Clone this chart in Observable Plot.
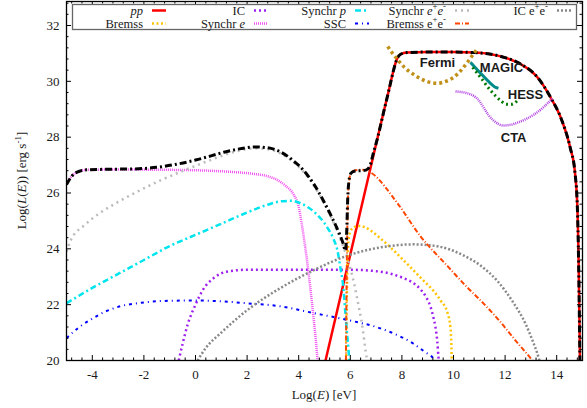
<!DOCTYPE html>
<html><head><meta charset="utf-8">
<script src="https://cdn.jsdelivr.net/npm/d3@7"></script>
<script src="https://cdn.jsdelivr.net/npm/@observablehq/plot@0.6"></script>
<style>body{margin:0;background:#fff} svg{display:block}</style>
</head><body><div id="chart"></div>
<script>
// ---------- data (log E [eV], log L [erg/s]) ----------
const totalX = [-5,-4.8,-4.5,-4.2,-3.5,-2.5,-1.5,-0.8,0,0.6,1.1,1.7,2.3,2.8,3.3,3.8,4.2,4.6,5.0,5.3,5.55,5.72,5.81,5.86,5.9,5.95,6.02,6.15,6.4,6.6,6.75,6.9,7.05,7.3,7.5,7.65,7.8,7.95,8.2,9,10,10.8,11.4,12,12.6,13.26,13.76,14.2,14.53,14.7,14.8,14.85,14.88,14.9];
const totalY = [26.3,26.6,26.78,26.83,26.85,26.86,26.92,27.02,27.18,27.33,27.46,27.58,27.65,27.62,27.47,27.15,26.8,26.3,25.65,25.1,24.6,24.2,23.94,24.6,25.8,26.45,26.7,26.78,26.8,26.82,26.95,27.45,27.95,28.93,29.7,30.3,30.78,30.97,31.03,31.05,31.05,31.03,30.98,30.85,30.62,30.14,29.43,28.6,27.6,26.8,25.5,23.5,21.5,20];
const ppX = [5.04,7.05,7.3,7.5,7.65,7.8,7.95,8.2,9,10,10.8,11.4,12,12.6,13.26,13.76,14.2,14.53,14.7,14.8,14.85,14.88,14.9];
const ppY = [20,27.95,28.93,29.7,30.3,30.78,30.97,31.03,31.05,31.05,31.03,30.98,30.85,30.62,30.14,29.43,28.6,27.6,26.8,25.5,23.5,21.5,20];
const bremX = [5.84,5.87,5.9,5.95,6.05,6.3,6.55,6.78,7.2,7.56,8.0,8.45,8.85,9.22,9.5,9.77,9.88,9.92,9.93];
const bremY = [20,22.5,23.8,24.45,24.7,24.82,24.78,24.66,24.35,24.05,23.65,23.23,22.85,22.5,22.15,21.7,21.2,20.5,20];
const icX = [-0.65,-0.5,-0.3,0,0.3,0.7,1.2,2,4,6,7,7.6,8.06,8.4,8.72,8.95,9.1,9.22,9.3,9.37,9.42,9.43];
const icY = [20,20.6,21.3,22.0,22.55,22.95,23.18,23.25,23.25,23.25,23.2,23.1,22.95,22.8,22.55,22.25,21.95,21.55,21.2,20.7,20.1,20];
const synEX = [-5,-4.8,-4.5,-4.2,-3,-1,0.5,1.5,2.3,2.8,3.2,3.5,3.8,4.0,4.1,4.2,4.32,4.45,4.58,4.7,4.73];
const synEY = [26.3,26.6,26.78,26.83,26.84,26.83,26.8,26.75,26.68,26.6,26.45,26.25,25.95,25.5,25.0,24.4,23.6,22.6,21.5,20.35,20];
const synPX = [-5,-4,-3,-2,-1,0,1,2,2.7,3.3,3.7,4.1,4.6,5.1,5.35,5.5,5.62,5.72,5.81,5.88,5.93,5.96];
const synPY = [22.05,22.6,23.1,23.6,24.1,24.5,24.9,25.3,25.55,25.7,25.72,25.62,25.32,24.78,24.35,23.95,23.3,22.7,21.7,20.9,20.4,20];
const sscX = [-5,-4.5,-4,-3.5,-3,-2,-1,0,1,2,3.3,4.57,5.9,7.17,7.67,8.45,8.9,9.22,9.25];
const sscY = [20.8,21.2,21.5,21.75,21.92,22.08,22.14,22.15,22.12,22.05,21.94,21.7,21.45,21.15,20.97,20.6,20.3,20.07,20];
const synPairX = [-5,-4.84,-4.3,-3.68,-3,-2.4,-1.36,-0.2,0.5,1.08,1.7,2.3,2.8,3.3,3.8,4.2,4.6,5.0,5.3,5.55,5.8,6.0,6.15,6.28,6.47,6.6,6.65];
const synPairY = [23.9,24.3,24.85,25.3,25.68,25.98,26.45,26.9,27.15,27.35,27.52,27.6,27.57,27.42,27.1,26.75,26.25,25.6,25.05,24.5,23.9,23.3,22.75,22.15,21.2,20.3,20];
const bremPairX = [5.83,5.86,5.9,5.95,6.02,6.15,6.4,6.6,6.78,7.83,8.72,9.77,10.5,11.05,11.8,12.4,13.0,13.06];
const bremPairY = [20,23,25.5,26.4,26.7,26.8,26.83,26.82,26.74,25.63,24.45,23.38,22.65,22.15,21.4,20.72,20.07,20];
const icPairX = [0.08,0.4,1,2,3.3,4.57,5.9,7.44,8.45,9.38,10.4,11.05,11.7,12.3,12.8,13.06,13.3,13.33];
const icPairY = [20,20.45,21.0,21.8,22.6,23.23,23.76,24.09,24.16,24.09,23.76,23.4,22.85,22.1,21.3,20.72,20.1,20];
const fermiX = [7.45,7.6,7.83,8.1,8.45,8.9,9.38,9.7,10.0,10.3,10.54,10.75,10.95];
const fermiY = [31.25,31.05,30.78,30.5,30.25,30.02,29.93,30.0,30.14,30.4,30.68,30.95,31.2];
const magicX = [10.66,11.05,11.43,11.6,11.74];
const magicY = [30.68,30.29,29.93,29.8,29.75];
const hessX = [10.74,11.05,11.43,11.82,12.05,12.25,12.52];
const hessY = [30.5,30.14,29.68,29.32,29.18,29.18,29.35];
const ctaX = [10.08,10.5,10.78,11.0,11.16,11.35,11.55,11.94,12.2,12.48,13.1,13.5,13.84];
const ctaY = [29.64,29.58,29.48,29.3,29.07,28.8,28.6,28.42,28.44,28.52,28.8,29.08,29.4];

const instNames = ["Fermi","MAGIC","HESS","CTA"];
const instLabelX = [9.38,11.86,12.79,12.33];
const instLabelY = [30.65,30.5,29.5,27.96];

const xTicks = [-4,-2,0,2,4,6,8,10,12,14];
const yTicks = [20,22,24,26,28,30,32];

// ---------- styles ----------
const series = [
  {key:"pp",   x:ppX, y:ppY, stroke:"#ff0000", w:2.5, dash:null},
  {key:"brem", x:bremX, y:bremY, stroke:"#ffc400", w:2.5, dash:"2,2.5"},
  {key:"ic",   x:icX, y:icY, stroke:"#a020f0", w:2.5, dash:"2,3"},
  {key:"synE", x:synEX, y:synEY, stroke:"#f050f0", w:2.5, dash:"1,1"},
  {key:"synP", x:synPX, y:synPY, stroke:"#00e5ee", w:2.5, dash:"6,3,2,3"},
  {key:"ssc",  x:sscX, y:sscY, stroke:"#0000ff", w:2, dash:"3,4,1,4"},
  {key:"synPair", x:synPairX, y:synPairY, stroke:"#bbbbbb", w:2.5, dash:"2,4"},
  {key:"icPair",  x:icPairX, y:icPairY, stroke:"#888888", w:2.5, dash:"2,2"},
  {key:"bremPair",x:bremPairX, y:bremPairY, stroke:"#ff4500", w:2, dash:"5,2,1,2"},
  {key:"total", x:totalX, y:totalY, stroke:"#000000", w:3, dash:"7,3,2,3"},
  {key:"fermi", x:fermiX, y:fermiY, stroke:"#c0901a", w:3.5, dash:"3,3"},
  {key:"magic", x:magicX, y:magicY, stroke:"#008b8b", w:3, dash:null},
  {key:"hess",  x:hessX, y:hessY, stroke:"#007a00", w:3, dash:"2,3"},
  {key:"cta",   x:ctaX, y:ctaY, stroke:"#b040e0", w:2.5, dash:"1,1"}
];
const styleOf = k => series.find(s => s.key === k);

// legend: [key, label segments] ; segment: [text, kind]
const legendRow1 = [
  ["pp",   [["pp","i"]]],
  ["ic",   [["IC",""]]],
  ["synP", [["Synchr ",""],["p","i"]]],
  ["synPair", [["Synchr ",""],["e","i"],["+","sup"],["e","i"],["-","sup"]]],
  ["icPair",  [["IC e",""],["+","sup"],["e",""],["-","sup"]]]
];
const legendRow2 = [
  ["brem", [["Bremss",""]]],
  ["synE", [["Synchr ",""],["e","i"]]],
  ["ssc",  [["SSC",""]]],
  ["bremPair", [["Bremss e",""],["+","sup"],["e",""],["-","sup"]]]
];

// ---------- layout ----------
const W = 587, H = 408;
const mL = 66, mR = 5, mT = 1, mB = 48;
const xDom = [-5, 15], yDom = [20, 32.86];
const yPerPx = (yDom[1]-yDom[0])/(H-mT-mB);
const xPerPx = (xDom[1]-xDom[0])/(W-mL-mR);
const xMinor = d3.range(-4.8, 15, 0.4).filter(v => Math.abs(v/2 - Math.round(v/2)) > 0.01);
const yMinor = d3.range(20.4, 32.86, 0.4).filter(v => Math.abs(v/2 - Math.round(v/2)) > 0.01);
const majL = 5, minL = 2.5;

const lineMarks = series.map(s => Plot.line(s.x.map((x,i)=>({x, y:s.y[i]})), {
  x:"x", y:"y", stroke:s.stroke, strokeWidth:s.w, strokeDasharray:s.dash || undefined,
  curve:"monotone-x", clip:true, strokeLinecap:"butt"
}));

const tickMarks = [];
function xt(vals, len){
  tickMarks.push(Plot.ruleX(vals, {x:d=>d, y1:yDom[0], y2:yDom[0]+len*yPerPx, stroke:"#000", strokeWidth:1}));
  tickMarks.push(Plot.ruleX(vals, {x:d=>d, y1:yDom[1]-len*yPerPx, y2:yDom[1], stroke:"#000", strokeWidth:1}));
}
function yt(vals, len){
  tickMarks.push(Plot.ruleY(vals, {y:d=>d, x1:xDom[0], x2:xDom[0]+len*xPerPx, stroke:"#000", strokeWidth:1}));
  tickMarks.push(Plot.ruleY(vals, {y:d=>d, x1:xDom[1]-len*xPerPx, x2:xDom[1], stroke:"#000", strokeWidth:1}));
}
xt(xTicks, majL); xt(xMinor, minL); yt(yTicks, majL); yt(yMinor, minL);

const chart = Plot.plot({
  width: W, height: H, marginLeft: mL, marginRight: mR, marginTop: mT, marginBottom: mB,
  x: {domain: xDom}, y: {domain: yDom},
  style: {fontFamily: "'Liberation Serif', 'Times New Roman', serif", fontSize: "13px", color: "#1a1a1a", background: "#fff"},
  marks: [
    ...lineMarks,
    Plot.text(instNames, {x: (d,i)=>instLabelX[i], y: (d,i)=>instLabelY[i], text: d=>d,
      fontFamily: "'Liberation Sans', Arial, sans-serif", fontWeight: "bold", fontSize: 13, fill: "#1a1a1a"}),
    ...tickMarks,
    Plot.axisX(xTicks, {tickSize: 0, tickPadding: 9, label: null, fontSize: 13, tickFormat: d => String(d)}),
    Plot.axisY(yTicks, {tickSize: 0, tickPadding: 7, label: null, fontSize: 13, tickFormat: d => String(d)}),
    Plot.frame({stroke: "#000", strokeWidth: 1.3})
  ]
});
document.getElementById("chart").appendChild(chart);

// ---------- rich text helper ----------
const svg = d3.select(chart);
function rich(g, segs, size){
  let up = false;
  segs.forEach(([t, kind]) => {
    const ts = g.append("tspan").text(t);
    if (kind === "i") ts.attr("font-style", "italic");
    if (kind === "sup") {
      ts.attr("font-size", size*0.7);
      if (!up) { ts.attr("dy", -size*0.42); up = true; }
    } else if (up) {
      ts.attr("dy", size*0.42); up = false;
    }
  });
}

// axis titles
const plotCx = (mL + W - mR) / 2;
const xTitle = svg.append("text").attr("x", plotCx).attr("y", 399).attr("text-anchor", "middle")
  .attr("font-family", "'Liberation Serif', serif").attr("font-size", 13).attr("fill", "#1a1a1a");
rich(xTitle, [["Log(",""],["E","i"],[") [eV]",""]], 13);
const plotCy = (mT + H - mB) / 2;
const yTitle = svg.append("text").attr("transform", `translate(26,${plotCy}) rotate(-90)`).attr("text-anchor", "middle")
  .attr("font-family", "'Liberation Serif', serif").attr("font-size", 13).attr("fill", "#1a1a1a");
rich(yTitle, [["Log(",""],["L","i"],["(",""],["E","i"],[")) [erg s",""],["-1","sup"],["]",""]], 13);

// legend
const lg = svg.append("g").attr("font-family", "'Liberation Serif', serif").attr("font-size", 12.5).attr("fill", "#1a1a1a");
lg.append("rect").attr("x", 72.5).attr("y", 4.5).attr("width", 504).attr("height", 25)
  .attr("fill", "#fff").attr("stroke", "#666").attr("stroke-width", 1.3);
const colEnd = [143, 245, 346, 446, 548];
const rowBase = [14.5, 27.5];
[legendRow1, legendRow2].forEach((row, r) => {
  row.forEach(([key, segs], c) => {
    const s = styleOf(key);
    const t = lg.append("text").attr("x", colEnd[c]).attr("y", rowBase[r]).attr("text-anchor", "end");
    rich(t, segs, 12.5);
    lg.append("line").attr("x1", colEnd[c] + 9).attr("x2", colEnd[c] + 23)
      .attr("y1", rowBase[r] - 4).attr("y2", rowBase[r] - 4)
      .attr("stroke", s.stroke).attr("stroke-width", s.w).attr("stroke-dasharray", s.dash);
  });
});
</script>
</body></html>
